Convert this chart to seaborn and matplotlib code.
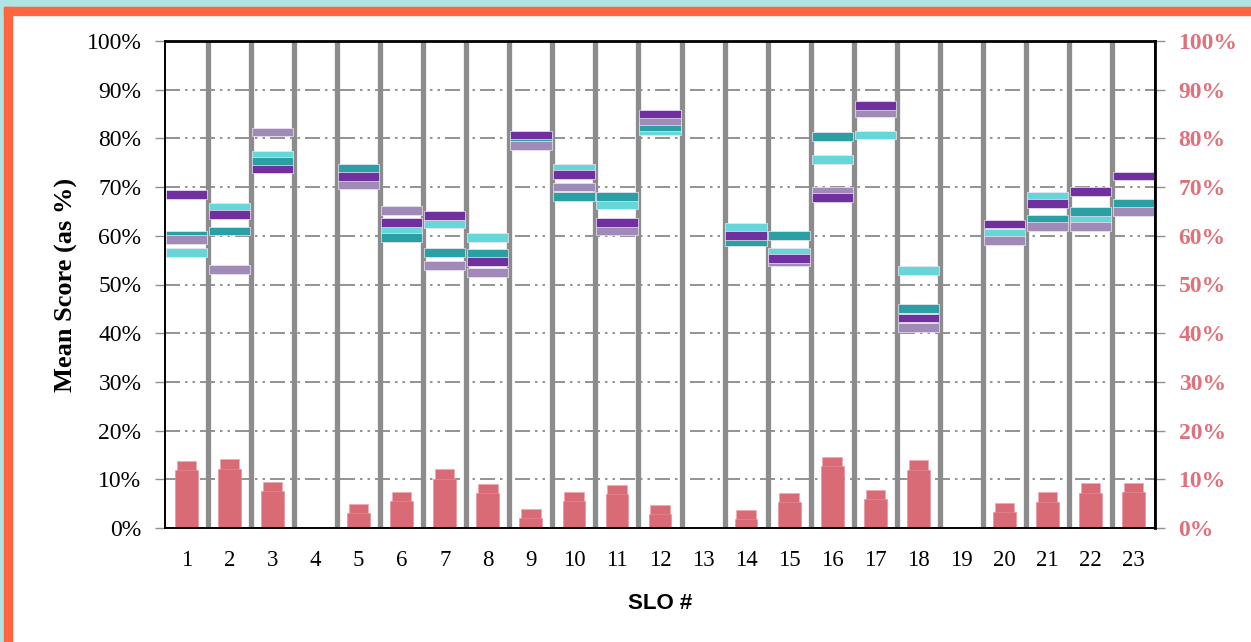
import numpy as np
import pandas as pd
import matplotlib
matplotlib.use("Agg")
import matplotlib.pyplot as plt
from matplotlib.patches import Rectangle
from matplotlib.ticker import FuncFormatter
import seaborn as sns

nan = np.nan

# SLO numbers on the x axis
slo = [str(i) for i in range(1, 24)]

# mean scores (%) for the four groups
dark_purple = [68.5, 64.3, 73.7, nan, 72.1, 62.7, 64.1, 54.8, 80.7, 72.6, 62.8, 85.0,
               nan, 60.0, 55.3, 67.8, 86.7, 43.1, nan, 62.4, 66.6, 69.1, 72.3]
light_purple = [59.2, 53.1, 81.3, nan, 70.5, 65.2, 53.9, 52.4, 78.5, 70.0, 61.1, 83.6,
                nan, nan, 54.6, 69.1, 85.2, 41.1, nan, 59.1, 61.9, 61.9, 65.0]
dark_teal = [60.0, 61.0, 75.3, nan, 73.8, 59.6, 56.5, 56.4, 79.7, 68.0, 68.0, 82.5,
             nan, 58.9, 60.0, 80.4, nan, 45.0, nan, nan, 63.4, 65.0, 66.7]
light_cyan = [56.5, 65.8, 76.6, nan, nan, 61.2, 62.4, 59.6, nan, 73.9, 66.5, 81.7,
              nan, 61.7, 56.6, 75.6, 80.7, 52.9, nan, 60.4, 68.0, 63.4, nan]

# pink bars at the bottom (right axis), a wide lower bar and a narrow taller one
bar_wide = [11.9, 12.2, 7.6, 0, 3.0, 5.5, 10.0, 7.2, 2.0, 5.5, 6.9, 2.8,
            0, 1.8, 5.3, 12.7, 6.0, 11.9, 0, 3.3, 5.4, 7.1, 7.3]
bar_narrow = [13.8, 14.1, 9.5, 0, 5.0, 7.4, 12.2, 9.1, 4.0, 7.3, 8.8, 4.7,
              0, 3.7, 7.1, 14.6, 7.9, 13.9, 0, 5.2, 7.3, 9.3, 9.3]

sns.set_style("white")
plt.rcParams["font.family"] = ["Liberation Serif", "DejaVu Serif"]
plt.rcParams["text.color"] = "black"
plt.rcParams["axes.labelcolor"] = "black"
plt.rcParams["xtick.labelcolor"] = "black"
plt.rcParams["ytick.labelcolor"] = "black"

fig = plt.figure(figsize=(12.51, 6.42), dpi=100)
ax = fig.add_axes([165 / 1251, 1 - 528 / 642, 990 / 1251, 487 / 642])

df = pd.DataFrame({"SLO": slo, "wide": bar_wide, "narrow": bar_narrow})
bar_col = "#D96B77"
# narrow bar sits behind, the wide one covers its lower part
sns.barplot(data=df, x="SLO", y="narrow", color=bar_col, width=0.45, saturation=1,
            edgecolor="#EFA9B1", linewidth=0.5, ax=ax, zorder=2)
sns.barplot(data=df, x="SLO", y="wide", color=bar_col, width=0.53, saturation=1,
            edgecolor="#E58C96", linewidth=0.4, ax=ax, zorder=2.1)

# score markers as thin floating bars
x = np.arange(len(slo))
thick = 1.8
series = [(light_cyan, "#66D6D8", 3.0), (dark_teal, "#2AA0A4", 3.1),
          (light_purple, "#A08AB8", 3.2), (dark_purple, "#7030A0", 3.3)]
for vals, col, z in series:
    v = np.array(vals, dtype=float)
    ok = ~np.isnan(v)
    ax.bar(x[ok], thick, bottom=v[ok] - thick / 2, width=0.96, color=col,
           edgecolor="#EDE6F3", linewidth=0.5, zorder=z)

# separators between SLOs
for b in np.arange(0.5, len(slo) - 1, 1.0):
    ax.axvline(b, color="#8C8C8C", lw=3.8, zorder=1)

ax.set_xlim(-0.5, len(slo) - 0.5)
ax.set_ylim(0, 100)
ax.set_yticks(np.arange(0, 101, 10))
ax.yaxis.set_major_formatter(FuncFormatter(lambda v, p: f"{v:.0f}%"))
for g in np.arange(10, 100, 10):
    ax.axhline(g, color="#808080", lw=1.2, dashes=(9, 3, 1.5, 3, 1.5, 3), zorder=0.5)

ax.set_xticks(x)
ax.set_xticklabels(slo, fontsize=16.5)
ax.set_xticks(np.arange(-0.5, len(slo), 1.0), minor=True)
ax.tick_params(axis="x", which="major", length=0, pad=16)
ax.tick_params(axis="x", which="minor", length=7, width=1, color="#909090", direction="out")
ax.tick_params(axis="y", length=7, width=1, color="#909090", direction="out", pad=10,
               labelsize=17, left=True)

for s in ax.spines.values():
    s.set_visible(True)
    s.set_color("black")
    s.set_linewidth(1.4)
ax.spines["top"].set_linewidth(2)

ax.set_ylabel("Mean Score (as %)", fontsize=19, fontweight="bold", labelpad=6)
ax.set_xlabel("SLO #", fontsize=16, fontweight="bold", family=["Liberation Sans"], labelpad=16)

ax2 = ax.twinx()
ax2.set_ylim(0, 100)
ax2.set_yticks(np.arange(0, 101, 10))
ax2.yaxis.set_major_formatter(FuncFormatter(lambda v, p: f"{v:.0f}%"))
ax2.tick_params(axis="y", length=7, width=1, color="#909090", direction="out", pad=10,
                labelsize=17, labelcolor="#E0707A", right=True)
for lbl in ax2.get_yticklabels():
    lbl.set_fontweight("bold")
for s in ax2.spines.values():
    s.set_visible(False)
ax2.spines["right"].set_visible(True)
ax2.spines["right"].set_color("black")
ax2.spines["right"].set_linewidth(2)

# slide frame: cyan strip and orange border
W, H = 1251, 642
fig.patches.append(Rectangle((0, 1 - 7 / H), 1, 7 / H, transform=fig.transFigure,
                             color="#B0E4E2", zorder=0))
fig.patches.append(Rectangle((0, 0), 4 / W, 1, transform=fig.transFigure,
                             color="#B0E4E2", zorder=0))
fig.patches.append(Rectangle((4 / W, 1 - 15 / H), 1, 8 / H, transform=fig.transFigure,
                             color="#FF6640", zorder=0))
fig.patches.append(Rectangle((4 / W, 0), 8 / W, 1 - 7 / H, transform=fig.transFigure,
                             color="#FF6640", zorder=0))

fig.savefig("out.png", dpi=100)
